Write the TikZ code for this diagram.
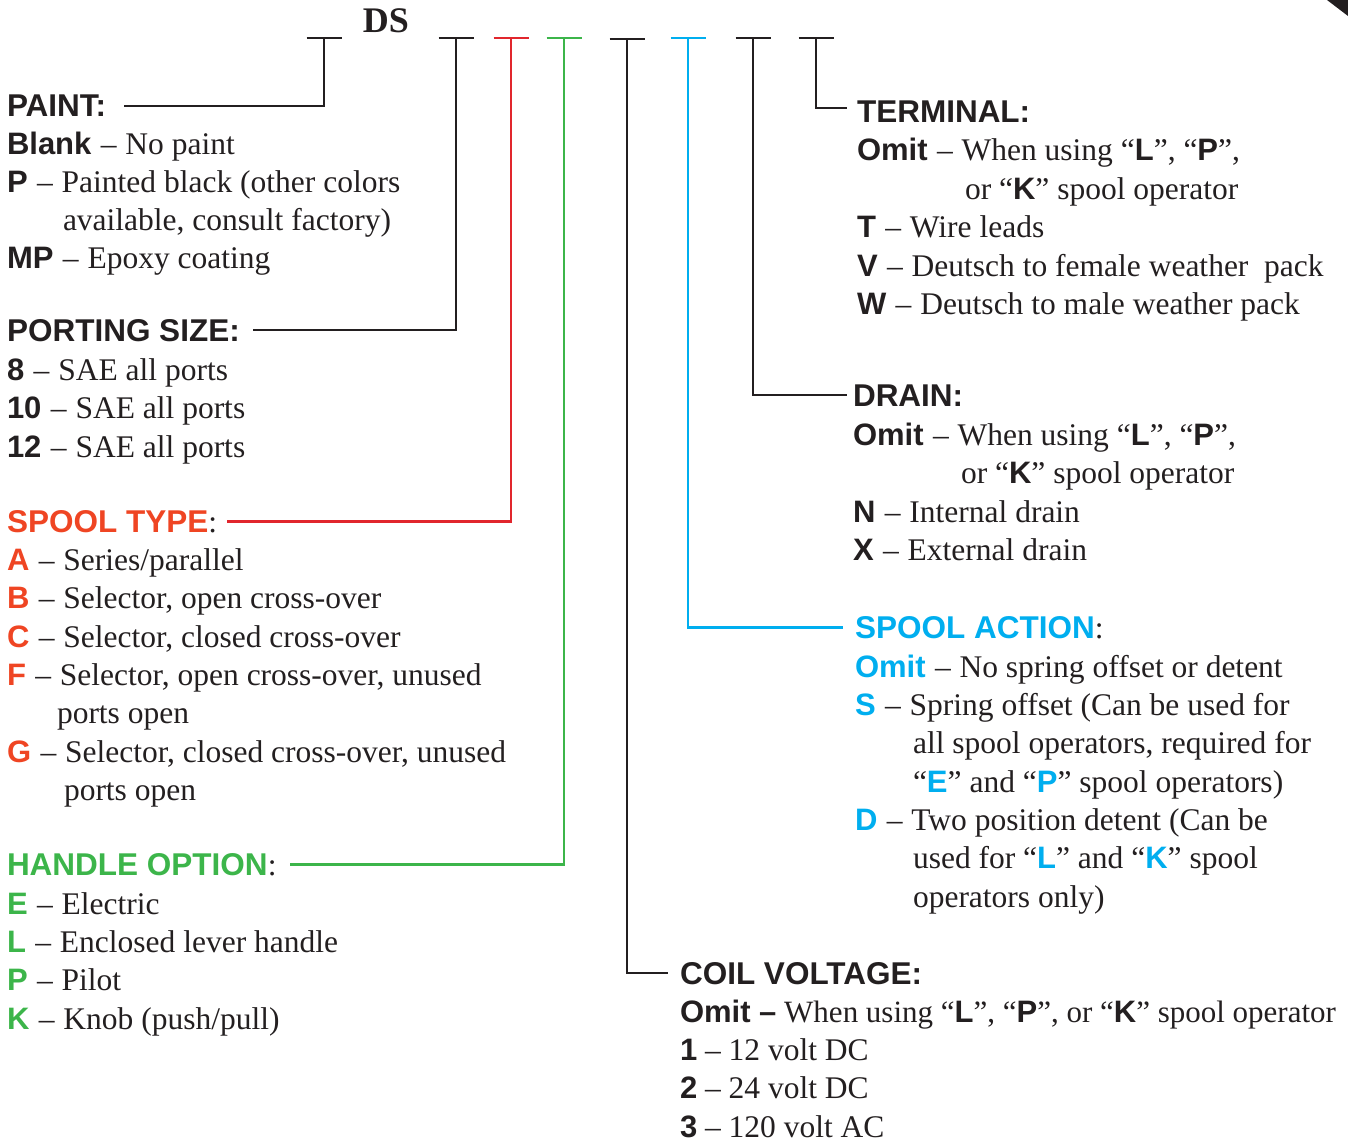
\documentclass[tikz,border=0pt]{standalone}
\usepackage{fontspec}
\setmainfont{Liberation Serif}
\newfontfamily\hvf{Liberation Sans}
\usetikzlibrary{calc}
\definecolor{ink}{HTML}{231F20}
\definecolor{sred}{HTML}{EF4523}
\definecolor{lred}{HTML}{E1262D}
\definecolor{sgreen}{HTML}{3CB54A}
\definecolor{sblue}{HTML}{00AEEF}
\newcommand\K[1]{{\hvf\bfseries\fontsize{31}{36}\selectfont #1}}
\newcommand\HD[1]{{\hvf\bfseries\fontsize{31.5}{36}\selectfont #1}}
\newcommand\KR[1]{\K{\color{sred}#1}}
\newcommand\KG[1]{\K{\color{sgreen}#1}}
\newcommand\KB[1]{\K{\color{sblue}#1}}
\newcommand\dd{\hspace{0.3em}–\hspace{0.28em}}
\tikzset{
  x=1pt, y=-1pt,
  txt/.style={anchor=base west, inner sep=0pt, outer sep=0pt, font=\fontsize{31.5}{38}\selectfont, text=ink},
  conn/.style={line width=2.6pt, draw=ink},
}
\begin{document}
\begin{tikzpicture}
\useasboundingbox (0,0) rectangle (1348,1145);
\fill[ink] (1327,0) -- (1348,0) -- (1348,16) -- cycle;

\node[anchor=base, inner sep=0pt, text=ink, font=\fontsize{36}{40}\selectfont\bfseries] (ds) at (386,33) {DS};

% PAINT
\node[txt] (paint) at (7,117) {\HD{PAINT:}};
\node[txt] (p1) at (7,154) {\K{Blank}\dd No paint};
\node[txt] (p2) at (7,192) {\K{P}\dd Painted black (other colors};
\node[txt] (p3) at (63,230) {available, consult factory)};
\node[txt] (p4) at (7,268) {\K{MP}\dd Epoxy coating};

% PORTING
\node[txt] (port) at (7,341) {\HD{PORTING SIZE:}};
\node[txt] (q1) at (7,380) {\K{8}\dd SAE all ports};
\node[txt] (q2) at (7,418) {\K{10}\dd SAE all ports};
\node[txt] (q3) at (7,457) {\K{12}\dd SAE all ports};

% SPOOL TYPE
\node[txt] (spool) at (7,532) {\HD{\color{sred}SPOOL TYPE}:};
\node[txt] (s1) at (7,570) {\KR{A}\dd Series/parallel};
\node[txt] (s2) at (7,608) {\KR{B}\dd Selector, open cross-over};
\node[txt] (s3) at (7,647) {\KR{C}\dd Selector, closed cross-over};
\node[txt] (s4) at (7,685) {\KR{F}\dd Selector, open cross-over, unused};
\node[txt] (s5) at (57,723) {ports open};
\node[txt] (s6) at (7,762) {\KR{G}\dd Selector, closed cross-over, unused};
\node[txt] (s7) at (64,800) {ports open};

% HANDLE OPTION
\node[txt] (handle) at (7,875) {\HD{\color{sgreen}HANDLE OPTION}:};
\node[txt] (h1) at (7,914) {\KG{E}\dd Electric};
\node[txt] (h2) at (7,952) {\KG{L}\dd Enclosed lever handle};
\node[txt] (h3) at (7,990) {\KG{P}\dd Pilot};
\node[txt] (h4) at (7,1029) {\KG{K}\dd Knob (push/pull)};

% TERMINAL
\node[txt] (term) at (857,122) {\HD{TERMINAL:}};
\node[txt] (t1) at (857,160.5) {\K{Omit}\dd When using “\K{L}”, “\K{P}”,};
\node[txt] (t2) at (965,199) {or “\K{K}” spool operator};
\node[txt] (t3) at (857,237.5) {\K{T}\dd Wire leads};
\node[txt] (t4) at (857,276) {\K{V}\dd Deutsch to female weather\ \ pack};
\node[txt] (t5) at (857,314.5) {\K{W}\dd Deutsch to male weather pack};

% DRAIN
\node[txt] (drain) at (853,406) {\HD{DRAIN:}};
\node[txt] (d1) at (853,445) {\K{Omit}\dd When using “\K{L}”, “\K{P}”,};
\node[txt] (d2) at (961,483) {or “\K{K}” spool operator};
\node[txt] (d3) at (853,522) {\K{N}\dd Internal drain};
\node[txt] (d4) at (853,560) {\K{X}\dd External drain};

% SPOOL ACTION
\node[txt] (action) at (855,638) {\HD{\color{sblue}SPOOL ACTION}:};
\node[txt] (a1) at (855,677) {\KB{Omit}\dd No spring offset or detent};
\node[txt] (a2) at (855,715) {\KB{S}\dd Spring offset (Can be used for};
\node[txt] (a3) at (913,753) {all spool operators, required for};
\node[txt] (a4) at (913,792) {“\KB{E}” and “\KB{P}” spool operators)};
\node[txt] (a5) at (855,830) {\KB{D}\dd Two position detent (Can be};
\node[txt] (a6) at (913,868) {used for “\KB{L}” and “\KB{K}” spool};
\node[txt] (a7) at (913,907) {operators only)};

% COIL VOLTAGE
\node[txt] (coil) at (680,984) {\HD{COIL VOLTAGE:}};
\node[txt, font=\fontsize{31}{38}\selectfont] (c1) at (680,1022) {\K{Omit –} When using “\K{L}”, “\K{P}”, or “\K{K}” spool operator};
\node[txt] (c2) at (680,1060) {\K{1} – 12 volt DC};
\node[txt] (c3) at (680,1098) {\K{2} – 24 volt DC};
\node[txt] (c4) at (680,1137) {\K{3} – 120 volt AC};

% top bars
\coordinate (b1) at (324,38);
\coordinate (b2) at (456,38);
\coordinate (b3) at (511,38);
\coordinate (b4) at (564,38);
\coordinate (b5) at (627,39);
\coordinate (b6) at (688,38);
\coordinate (b7) at (753,38);
\coordinate (b8) at (816,38);
\foreach \b/\c in {b1/ink,b2/ink,b3/lred,b4/sgreen,b5/ink,b6/sblue,b7/ink,b8/ink}
  \draw[conn, draw=\c] ([xshift=-17.5pt]\b) -- ([xshift=17.5pt]\b);

% connectors
\draw[conn] (b1) |- ([xshift=18pt]paint.east);
\draw[conn] (b2) |- ([xshift=13pt]port.east);
\draw[conn, draw=lred] (b3) |- ([xshift=10pt]spool.east);
\draw[conn, draw=sgreen] (b4) |- ([xshift=13pt]handle.east);
\draw[conn] (b5) |- ([xshift=-12pt]coil.west);
\draw[conn, draw=sblue] (b6) |- ([xshift=-12pt]action.west);
\draw[conn] (b7) |- ([xshift=-6pt]drain.west);
\draw[conn] (b8) |- ([xshift=-10pt,yshift=3pt]term.west);
\end{tikzpicture}
\end{document}
